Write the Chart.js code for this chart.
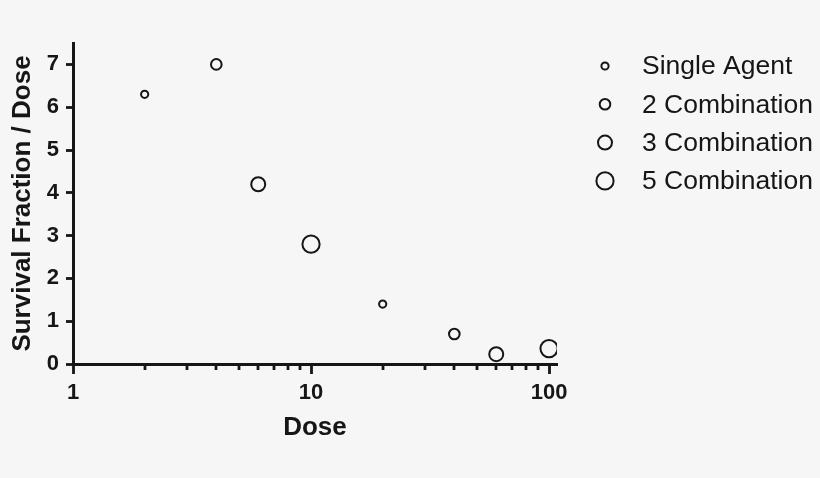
<!DOCTYPE html>
<html>
<head>
<meta charset="utf-8">
<script src="https://cdn.jsdelivr.net/npm/chart.js@4"></script>
<style>
  html, body { margin: 0; padding: 0; background: #f6f6f6; }
  #wrap { width: 820px; height: 478px; }
</style>
</head>
<body>
<div id="wrap"><canvas id="chart"></canvas></div>
<script>
// data
const seriesNames = ["Single Agent", "2 Combination", "3 Combination", "5 Combination"];
const seriesDose = [
    [2, 20],
    [4, 40],
    [6, 60],
    [10, 100]
];
const seriesValues = [
    [6.3, 1.4],
    [7.0, 0.7],
    [4.2, 0.23],
    [2.8, 0.36]
];
const xMajorTicks = [1, 10, 100];
const xMinorTicks = [2, 3, 4, 5, 6, 7, 8, 9, 20, 30, 40, 50, 60, 70, 80, 90];
const yTicks = [0, 1, 2, 3, 4, 5, 6, 7];

const markerSizes = [3.6, 5.3, 7, 8.6];
const ink = "#161616";

const minorTicks = {
    id: "minorTicks",
    afterDraw(chart) {
        const ctx = chart.ctx;
        const xs = chart.scales.x;
        ctx.save();
        ctx.strokeStyle = ink;
        ctx.lineWidth = 2.8;
        xMinorTicks.forEach(v => {
            const px = Math.round(xs.getPixelForValue(v));
            ctx.beginPath();
            ctx.moveTo(px, xs.top);
            ctx.lineTo(px, xs.top + 6);
            ctx.stroke();
        });
        ctx.restore();
    }
};

const sideLegend = {
    id: "sideLegend",
    afterDraw(chart) {
        const ctx = chart.ctx;
        ctx.save();
        ctx.font = "26.5px 'Liberation Sans', Arial, sans-serif";
        ctx.textBaseline = "middle";
        ctx.fillStyle = ink;
        chart.data.datasets.forEach((ds, i) => {
            const y = 66 + i * 38.3;
            ctx.beginPath();
            ctx.arc(605, y, ds.pointRadius, 0, Math.PI * 2);
            ctx.lineWidth = ds.borderWidth;
            ctx.strokeStyle = ds.borderColor;
            ctx.stroke();
            ctx.fillText(ds.label, 642, y + 1);
        });
        ctx.restore();
    }
};

window.onload = function () {
    const datasets = seriesNames.map((name, i) => ({
        label: name,
        data: seriesDose[i].map((d, j) => ({ x: d, y: seriesValues[i][j] })),
        pointRadius: markerSizes[i],
        pointHoverRadius: markerSizes[i],
        borderWidth: 2,
        borderColor: ink,
        backgroundColor: "rgba(0,0,0,0)"
    }));

    new Chart(document.getElementById("chart"), {
        type: "scatter",
        data: { datasets },
        options: {
            responsive: true,
            maintainAspectRatio: false,
            animation: false,
            layout: { padding: { top: 43, right: 263, left: 0, bottom: 0 } },
            plugins: {
                legend: { display: false },
                tooltip: { enabled: false }
            },
            scales: {
                x: {
                    type: "logarithmic",
                    min: 1,
                    max: 108,
                    afterBuildTicks: s => { s.ticks = xMajorTicks.map(v => ({ value: v })); },
                    afterFit: s => { s.height = 114; },
                    border: { color: ink, width: 3 },
                    grid: {
                        drawOnChartArea: false,
                        tickLength: 10,
                        tickWidth: 2.8,
                        tickColor: ink
                    },
                    ticks: {
                        autoSkip: false,
                        maxRotation: 0,
                        padding: 6,
                        color: ink,
                        font: { family: "'Liberation Sans', Arial", size: 22, weight: "bold" },
                        callback: v => String(v)
                    },
                    title: {
                        display: true,
                        text: "Dose",
                        color: ink,
                        font: { family: "'Liberation Sans', Arial", size: 26, weight: "bold", lineHeight: 1.2 },
                        padding: { top: 0, bottom: 35 }
                    }
                },
                y: {
                    min: 0,
                    max: 7.5,
                    afterBuildTicks: s => { s.ticks = yTicks.map(v => ({ value: v })); },
                    afterFit: s => { s.width = 73; },
                    border: { color: ink, width: 3 },
                    grid: {
                        drawOnChartArea: false,
                        tickLength: 7,
                        tickWidth: 2.8,
                        tickColor: ink
                    },
                    ticks: {
                        padding: 7,
                        color: ink,
                        font: { family: "'Liberation Sans', Arial", size: 22, weight: "bold" }
                    },
                    title: {
                        display: true,
                        text: "Survival Fraction / Dose",
                        color: ink,
                        font: { family: "'Liberation Sans', Arial", size: 26, weight: "bold", lineHeight: 1.2 },
                        padding: { top: 7, bottom: 0 }
                    }
                }
            }
        },
        plugins: [minorTicks, sideLegend]
    });
};
</script>
</body>
</html>
